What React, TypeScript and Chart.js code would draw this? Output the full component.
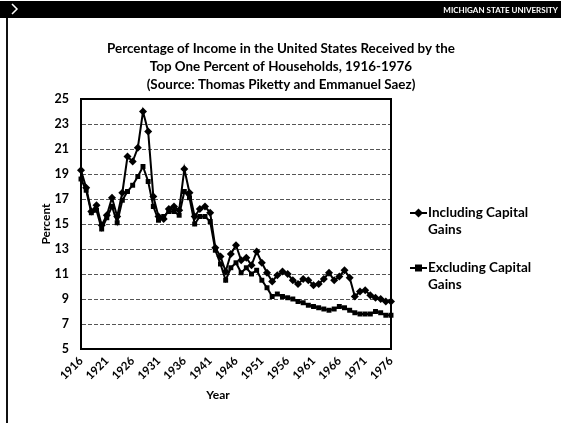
import React, { useEffect, useRef } from 'react';
import { Chart, registerables } from 'chart.js';

Chart.register(...registerables);

const years: string[] = [
  '1916', '1917', '1918', '1919', '1920', '1921', '1922', '1923', '1924', '1925',
  '1926', '1927', '1928', '1929', '1930', '1931', '1932', '1933', '1934', '1935',
  '1936', '1937', '1938', '1939', '1940', '1941', '1942', '1943', '1944', '1945',
  '1946', '1947', '1948', '1949', '1950', '1951', '1952', '1953', '1954', '1955',
  '1956', '1957', '1958', '1959', '1960', '1961', '1962', '1963', '1964', '1965',
  '1966', '1967', '1968', '1969', '1970', '1971', '1972', '1973', '1974', '1975',
  '1976',
];

const includingCapitalGains: number[] = [
  19.3, 17.9, 16.0, 16.5, 14.9, 15.7, 17.1, 15.6, 17.5, 20.4,
  20.0, 21.1, 24.0, 22.4, 17.2, 15.6, 15.4, 16.2, 16.4, 16.1,
  19.4, 17.5, 15.6, 16.2, 16.4, 15.9, 13.1, 12.4, 11.2, 12.6,
  13.3, 12.1, 12.3, 11.7, 12.8, 11.9, 11.1, 10.4, 10.9, 11.2,
  11.0, 10.5, 10.2, 10.6, 10.5, 10.1, 10.2, 10.6, 11.1, 10.5,
  10.8, 11.3, 10.7, 9.2, 9.6, 9.7, 9.3, 9.1, 9.0, 8.8,
  8.8,
];

const excludingCapitalGains: number[] = [
  18.6, 17.7, 15.9, 16.1, 14.6, 15.5, 16.4, 15.1, 16.9, 17.6,
  18.1, 18.8, 19.6, 18.4, 16.4, 15.3, 15.6, 16.0, 16.0, 15.7,
  17.6, 17.1, 15.0, 15.6, 15.6, 15.2, 12.9, 11.8, 10.5, 11.5,
  11.9, 11.1, 11.5, 11.0, 11.3, 10.5, 9.9, 9.2, 9.4, 9.2,
  9.1, 9.0, 8.8, 8.7, 8.5, 8.4, 8.3, 8.2, 8.1, 8.2,
  8.4, 8.3, 8.1, 7.9, 7.8, 7.8, 7.8, 8.0, 7.9, 7.7,
  7.7,
];

const shownYearLabels: string[] = [
  '1916', '1921', '1926', '1931', '1936', '1941', '1946', '1951', '1956', '1961', '1966', '1971', '1976',
];

const titleLines: string[] = [
  'Percentage of Income in the United States Received by the',
  'Top One Percent of Households, 1916-1976',
  '(Source: Thomas Piketty and Emmanuel Saez)',
];

const seriesNames: string[][] = [
  ['Including Capital', 'Gains'],
  ['Excluding Capital', 'Gains'],
];

const FONT = 'Lato, "Open Sans", "DejaVu Sans", sans-serif';

const decorPlugin = {
  id: 'decor',
  beforeDraw(chart: any) {
    const ctx = chart.ctx;
    const w = chart.width;
    const h = chart.height;
    ctx.save();
    ctx.fillStyle = '#ffffff';
    ctx.fillRect(0, 0, w, h);
    // top banner
    ctx.fillStyle = '#000000';
    ctx.fillRect(0, 1, w, 17);
    ctx.strokeStyle = '#ffffff';
    ctx.lineWidth = 1.5;
    ctx.beginPath();
    ctx.moveTo(12, 4);
    ctx.lineTo(17, 9);
    ctx.lineTo(12, 14);
    ctx.stroke();
    ctx.fillStyle = '#ffffff';
    ctx.font = 'bold 8px ' + FONT;
    ctx.textAlign = 'right';
    ctx.textBaseline = 'middle';
    ctx.fillText('MICHIGAN STATE UNIVERSITY', w - 3, 10);
    // left frame line
    ctx.fillStyle = '#111111';
    ctx.fillRect(6, 18, 2, h - 18);
    ctx.restore();
  },
  afterDraw(chart: any) {
    const ctx = chart.ctx;
    const area = chart.chartArea;
    ctx.save();
    // plot frame
    ctx.strokeStyle = '#000000';
    ctx.lineWidth = 2;
    ctx.strokeRect(area.left, area.top, area.right - area.left, area.bottom - area.top);
    // title
    ctx.fillStyle = '#000000';
    ctx.textAlign = 'center';
    ctx.textBaseline = 'middle';
    ctx.font = 'bold 13.4px ' + FONT;
    titleLines.forEach((t, i) => ctx.fillText(t, 281, 49 + i * 18));
    // axis titles
    ctx.font = 'bold 12px ' + FONT;
    ctx.fillText('Year', 218, 395);
    ctx.save();
    ctx.translate(46, (area.top + area.bottom) / 2);
    ctx.rotate(-Math.PI / 2);
    ctx.fillText('Percent', 0, 0);
    ctx.restore();
    // legend
    const items = [
      { y: 213, style: 'diamond' },
      { y: 268, style: 'square' },
    ];
    items.forEach((it, i) => {
      ctx.strokeStyle = '#000000';
      ctx.lineWidth = 2;
      ctx.beginPath();
      ctx.moveTo(410, it.y);
      ctx.lineTo(427, it.y);
      ctx.stroke();
      ctx.fillStyle = '#000000';
      ctx.beginPath();
      if (it.style === 'diamond') {
        ctx.moveTo(418.5, it.y - 4.5);
        ctx.lineTo(423, it.y);
        ctx.lineTo(418.5, it.y + 4.5);
        ctx.lineTo(414, it.y);
        ctx.closePath();
      } else {
        ctx.rect(415, it.y - 3.5, 7, 7);
      }
      ctx.fill();
      ctx.font = 'bold 13.5px ' + FONT;
      ctx.textAlign = 'left';
      ctx.textBaseline = 'middle';
      seriesNames[i].forEach((line, j) => ctx.fillText(line, 428, it.y + j * 17));
    });
    ctx.restore();
  },
};

export default function App() {
  const canvasRef = useRef<HTMLCanvasElement | null>(null);

  useEffect(() => {
    document.body.style.margin = '0';
    const canvas = canvasRef.current;
    if (!canvas) return;
    const chart = new Chart(canvas, {
      type: 'line',
      data: {
        labels: years,
        datasets: [
          {
            label: seriesNames[0].join(' '),
            data: includingCapitalGains,
            borderColor: '#000000',
            backgroundColor: '#000000',
            borderWidth: 2,
            pointStyle: 'rectRot',
            pointRadius: 4,
            pointBorderWidth: 0,
            tension: 0,
          },
          {
            label: seriesNames[1].join(' '),
            data: excludingCapitalGains,
            borderColor: '#000000',
            backgroundColor: '#000000',
            borderWidth: 2,
            pointStyle: 'rect',
            pointRadius: 3.5,
            pointBorderWidth: 0,
            tension: 0,
          },
        ],
      },
      options: {
        animation: false,
        responsive: false,
        devicePixelRatio: 1,
        layout: { padding: { left: 0, right: 170, top: 99, bottom: 0 } },
        plugins: {
          legend: { display: false },
          title: { display: false },
          tooltip: { enabled: false },
        },
        scales: {
          x: {
            type: 'category',
            offset: false,
            grid: { display: false, drawTicks: false },
            border: { display: true, color: '#000000', width: 2 },
            ticks: {
              autoSkip: false,
              maxRotation: 45,
              minRotation: 45,
              padding: 5,
              color: '#000000',
              font: { family: FONT, size: 11.5, weight: 'bold' },
              callback: (_v: any, i: number) => (shownYearLabels.includes(years[i]) ? years[i] : ''),
            },
            afterFit: (scale: any) => {
              scale.height = 74;
            },
          },
          y: {
            min: 5,
            max: 25,
            grid: {
              color: '#555555',
              lineWidth: 1,
              drawTicks: false,
            },
            border: { display: true, color: '#000000', width: 2, dash: [4, 2] },
            ticks: {
              stepSize: 2,
              padding: 12,
              color: '#000000',
              font: { family: FONT, size: 12.5, weight: 'bold' },
            },
            afterFit: (scale: any) => {
              scale.width = 81;
            },
          },
        },
      },
      plugins: [decorPlugin],
    } as any);
    return () => chart.destroy();
  }, []);

  return (
    <div style={{ position: 'absolute', left: 0, top: 0, width: 561, height: 423 }}>
      <canvas ref={canvasRef} width={561} height={423} style={{ display: 'block' }} />
    </div>
  );
}
